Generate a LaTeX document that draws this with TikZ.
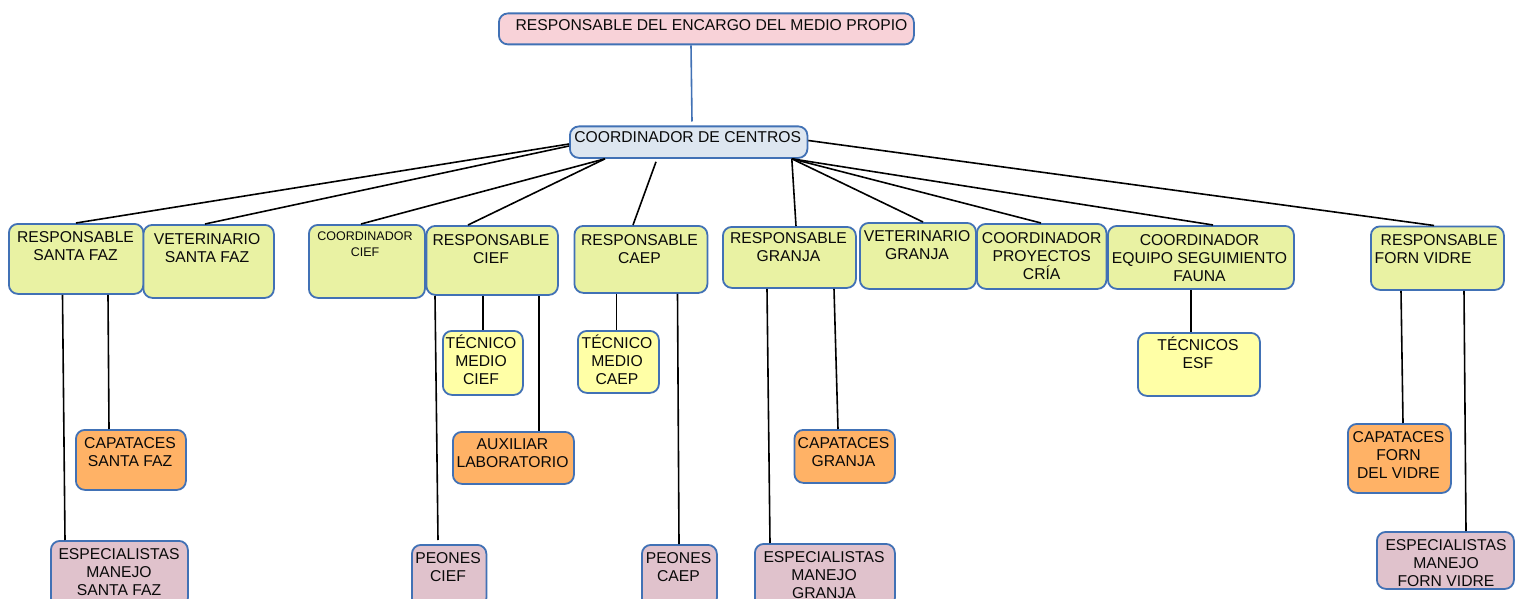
\documentclass[tikz,border=0pt]{standalone}
\usepackage{fontspec}
\setmainfont{Liberation Sans}
\definecolor{bord}{RGB}{65,113,181}
\definecolor{ygc}{RGB}{233,242,163}
\definecolor{yelc}{RGB}{255,255,166}
\definecolor{orc}{RGB}{255,178,102}
\definecolor{mc}{RGB}{224,194,204}
\definecolor{pinkc}{RGB}{248,210,216}
\definecolor{coordc}{RGB}{221,230,240}
\definecolor{txtc}{RGB}{10,10,10}
\tikzset{
  box/.style={draw=bord, line width=1.8pt, rounded corners=9pt, inner sep=0pt, anchor=north west},
  lbl/.style={anchor=north, inner sep=0pt, align=center, text=txtc, font=\fontsize{15.7}{18}\selectfont},
  conn/.style={draw=black, line width=1.6pt},
  bconn/.style={draw=bord, line width=1.6pt},
}
\newcommand\T{\rule{0pt}{15pt}}
\newcommand\bx[9]{%
  \node[box,#6,minimum width={#4pt-#2pt},minimum height={#5pt-#3pt}] (#1) at (#2,#3) {};
  \node[lbl] (#1-t) at (#7,#8-9.4) {\T#9};
}
\begin{document}
\begin{tikzpicture}[x=1pt,y=-1pt]
\clip (0,0) rectangle (1523,599);
\fill[white] (0,0) rectangle (1523,599);
% top levels
\bx{top}{498}{12.5}{913}{43.5}{fill=pinkc}{711.5}{24.5}{RESPONSABLE DEL ENCARGO DEL MEDIO PROPIO}
\bx{coord}{569}{125.5}{806.5}{157}{fill=coordc}{687.7}{136.7}{COORDINADOR DE CENTROS}
% row 2
\bx{rsf}{8}{223}{142.5}{293}{fill=ygc}{75.5}{236.5}{RESPONSABLE\\SANTA FAZ}
\bx{vsf}{142.5}{224}{273}{297}{fill=ygc}{207}{238.5}{VETERINARIO\\SANTA FAZ}
\node[box,fill=ygc,minimum width=116pt,minimum height=73pt] (ccief) at (308,224) {};
\node[lbl,font=\fontsize{12.5}{16}\selectfont] (ccief-t) at (365,225.5) {\T COORDINADOR\\CIEF};
\bx{rcief}{425.5}{225}{557}{294}{fill=ygc}{491}{239.5}{RESPONSABLE\\CIEF}
\bx{rcaep}{573.5}{225}{706.5}{292}{fill=ygc}{639.5}{239.5}{RESPONSABLE\\CAEP}
\bx{rgr}{722}{226}{855}{287}{fill=ygc}{788.5}{237.5}{RESPONSABLE\\GRANJA}
\bx{vgr}{859}{222}{975}{288}{fill=ygc}{917}{235.5}{VETERINARIO\\GRANJA}
\bx{cpc}{976}{223}{1105.5}{288}{fill=ygc}{1041.7}{237.5}{COORDINADOR\\PROYECTOS\\CRÍA}
\bx{cesf}{1107}{225}{1293}{288}{fill=ygc}{1199.5}{239.5}{COORDINADOR\\EQUIPO SEGUIMIENTO\\FAUNA}
\node[box,fill=ygc,minimum width=133pt,minimum height=63.5pt] (rfv) at (1370,225.5) {};
\node[lbl,anchor=north west,align=left] (rfv-t) at (1374.5,230.1) {\T\hspace{6pt}RESPONSABLE\\FORN VIDRE};
% row 3
\bx{tmc}{442}{330}{522}{394}{fill=yelc}{481}{343}{TÉCNICO\\MEDIO\\CIEF}
\bx{tmcaep}{577}{330}{658}{392}{fill=yelc}{617}{343}{TÉCNICO\\MEDIO\\CAEP}
\bx{tesf}{1137}{332}{1259}{395}{fill=yelc}{1198}{345}{TÉCNICOS\\ESF}
\bx{csf}{75}{429}{185}{489}{fill=orc}{130}{443}{CAPATACES\\SANTA FAZ}
\bx{aux}{452}{431}{573}{483}{fill=orc}{512.5}{444}{AUXILIAR\\LABORATORIO}
\bx{cgr}{793.5}{429}{894}{482}{fill=orc}{843.5}{443}{CAPATACES\\GRANJA}
\bx{cfv}{1347}{423}{1450}{492}{fill=orc}{1398.5}{437}{CAPATACES\\FORN\\DEL VIDRE}
\bx{esf}{50}{540}{187}{606}{fill=mc}{119}{554}{ESPECIALISTAS\\MANEJO\\SANTA FAZ}
\bx{pcief}{411}{544}{485.5}{606}{fill=mc}{448}{558}{PEONES\\CIEF}
\bx{pcaep}{641}{544}{716}{606}{fill=mc}{678.5}{558}{PEONES\\CAEP}
\bx{egr}{754}{543}{894}{606}{fill=mc}{824}{556.5}{ESPECIALISTAS\\MANEJO\\GRANJA}
\bx{efv}{1376}{531}{1513}{588}{fill=mc}{1446}{545}{ESPECIALISTAS\\MANEJO\\FORN VIDRE}
% connectors
\draw[bconn] ([xshift=193pt]top.south west) -- ([xshift=123pt,yshift=4pt]coord.north west);
\draw[conn] ([yshift=-18.5pt]coord.north west) -- ([xshift=68pt]rsf.north west);
\draw[conn] ([yshift=-20.5pt]coord.north west) -- ([xshift=62.5pt]vsf.north west);
\draw[conn] ([xshift=36pt]coord.south west) -- ([xshift=53pt]ccief.north west);
\draw[conn] ([xshift=36pt]coord.south west) -- ([xshift=42.5pt]rcief.north west);
\draw[conn] ([xshift=87pt,yshift=-3pt]coord.south west) -- ([xshift=59.5pt]rcaep.north west);
\draw[conn] ([xshift=-16.5pt]coord.south east) -- ([xshift=74pt]rgr.north west);
\draw[conn] ([xshift=-16.5pt]coord.south east) -- ([xshift=64pt]vgr.north west);
\draw[conn] ([xshift=-16.5pt]coord.south east) -- ([xshift=65pt]cpc.north west);
\draw[conn] ([xshift=-16.5pt]coord.south east) -- ([xshift=106pt]cesf.north west);
\draw[conn] ([yshift=-15pt]coord.north east) -- ([xshift=64pt]rfv.north west);
% verticals
\draw[conn] ([xshift=54.5pt]rsf.south west) -- ([xshift=15pt]esf.north west);
\draw[conn] ([xshift=100pt]rsf.south west) -- ([xshift=34pt]csf.north west);
\draw[conn] ([xshift=9.5pt]rcief.south west) -- ([xshift=27pt,yshift=4pt]pcief.north west);
\draw[conn] ([xshift=57.5pt]rcief.south west) -- ([xshift=41pt]tmc.north west);
\draw[conn] ([xshift=113.5pt]rcief.south west) -- ([xshift=87pt]aux.north west);
\draw[conn] ([xshift=43pt]rcaep.south west) -- ([xshift=39.5pt]tmcaep.north west);
\draw[conn] ([xshift=104pt]rcaep.south west) -- ([xshift=38pt]pcaep.north west);
\draw[conn] ([xshift=45pt]rgr.south west) -- ([xshift=16pt]egr.north west);
\draw[conn] ([xshift=112pt]rgr.south west) -- ([xshift=44.5pt]cgr.north west);
\draw[conn] ([xshift=84pt]cesf.south west) -- ([xshift=54pt]tesf.north west);
\draw[conn] ([xshift=31pt]rfv.south west) -- ([xshift=56pt]cfv.north west);
\draw[conn] ([xshift=94pt]rfv.south west) -- ([xshift=90pt]efv.north west);
\end{tikzpicture}
\end{document}
